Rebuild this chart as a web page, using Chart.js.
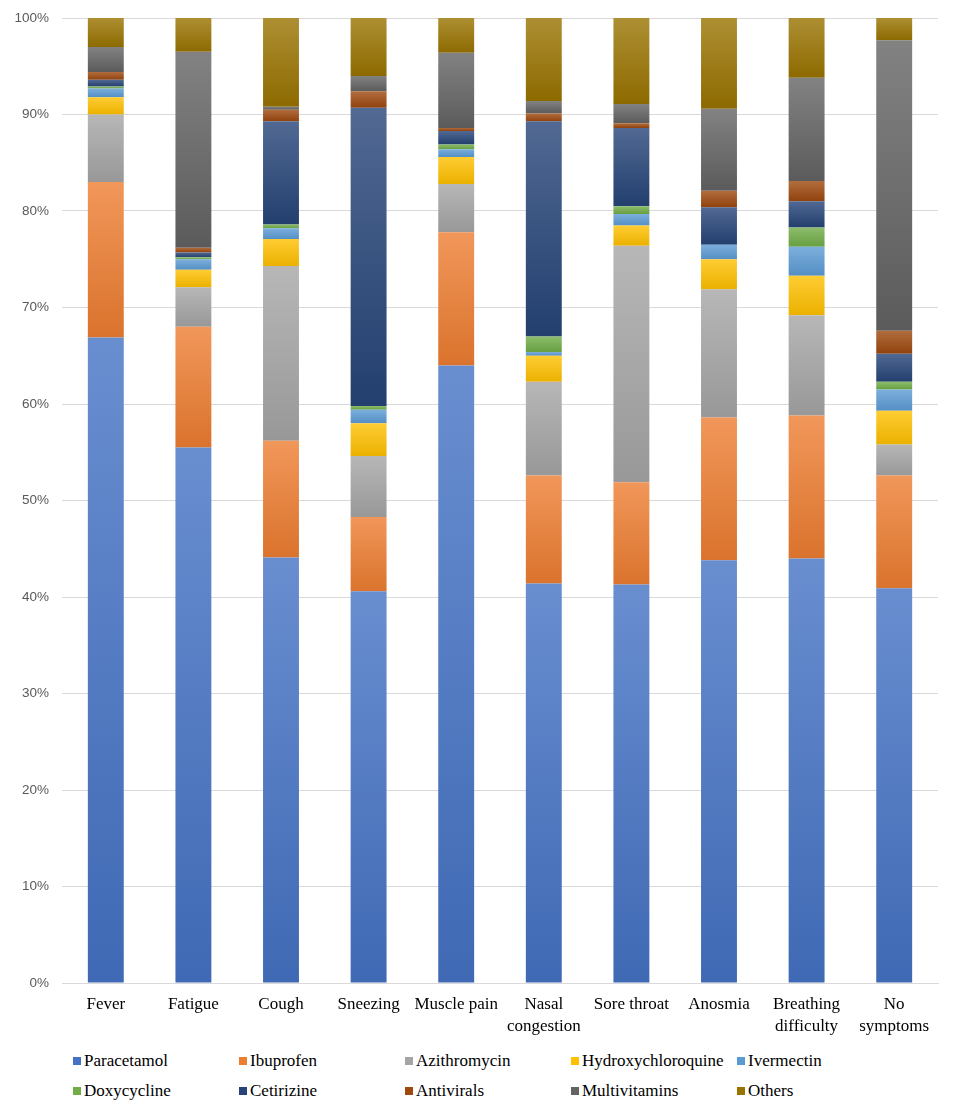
<!DOCTYPE html>
<html lang="en">
<head>
    <meta charset="UTF-8">
    <title>Medication use by symptom</title>
    <script src="https://cdn.jsdelivr.net/npm/chart.js"></script>
    <style>
        body { margin: 0; background: #fff; }
        #wrap { position: relative; width: 957px; height: 1109px; }
        #chart { display: block; }
        #legend {
            position: absolute; left: 73px; top: 1050px;
            display: grid; grid-template-columns: repeat(5, 166px);
            row-gap: 8px;
            font-family: "Liberation Serif", "Times New Roman", serif;
            font-size: 17px; color: #000;
        }
        #legend div { display: flex; align-items: center; height: 22px; white-space: nowrap; }
        #legend span.box { width: 8px; height: 8px; margin-right: 3px; flex: none; }
    </style>
</head>
<body>
<div id="wrap">
    <canvas id="chart" width="957" height="1041"></canvas>
    <div id="legend"></div>
</div>

<script>
// categories (x axis)
const symptoms = ['Fever', 'Fatigue', 'Cough', 'Sneezing', 'Muscle pain',
    ['Nasal', 'congestion'], 'Sore throat', 'Anosmia', ['Breathing', 'difficulty'], ['No', 'symptoms']];

// share of each medication per symptom, %
const paracetamol        = [66.9, 55.5, 44.1, 40.6, 64.0, 41.4, 41.3, 43.8, 44.0, 40.9];
const ibuprofen          = [16.1, 12.5, 12.1,  7.7, 13.8, 11.2, 10.6, 14.8, 14.8, 11.7];
const azithromycin       = [ 7.0,  4.1, 18.1,  6.3,  5.0,  9.7, 24.5, 13.3, 10.4,  3.2];
const hydroxychloroquine = [ 1.8,  1.8,  2.8,  3.4,  2.8,  2.7,  2.1,  3.1,  4.1,  3.5];
const ivermectin         = [ 0.9,  1.1,  1.1,  1.4,  0.8,  0.4,  1.2,  1.5,  3.0,  2.2];
const doxycycline        = [ 0.2,  0.2,  0.4,  0.4,  0.5,  1.6,  0.8,  0.0,  2.0,  0.8];
const cetirizine         = [ 0.7,  0.5, 10.7, 30.9,  1.4, 22.3,  8.1,  3.9,  2.7,  2.9];
const antivirals         = [ 0.8,  0.5,  1.2,  1.7,  0.3,  0.8,  0.5,  1.7,  2.1,  2.4];
const multivitamins      = [ 2.6, 20.3,  0.3,  1.6,  7.8,  1.3,  2.0,  8.5, 10.7, 30.1];
const others             = [ 3.0,  3.5,  9.2,  6.0,  3.6,  8.6,  8.9,  9.4,  6.2,  2.3];

const yTicks = [0, 10, 20, 30, 40, 50, 60, 70, 80, 90, 100];

const series = [
    { label: 'Paracetamol',        data: paracetamol,        color: '#4472C4' },
    { label: 'Ibuprofen',          data: ibuprofen,          color: '#ED7D31' },
    { label: 'Azithromycin',       data: azithromycin,       color: '#A5A5A5' },
    { label: 'Hydroxychloroquine', data: hydroxychloroquine, color: '#FFC000' },
    { label: 'Ivermectin',         data: ivermectin,         color: '#5B9BD5' },
    { label: 'Doxycycline',        data: doxycycline,        color: '#70AD47' },
    { label: 'Cetirizine',         data: cetirizine,         color: '#264478' },
    { label: 'Antivirals',         data: antivirals,         color: '#9E480E' },
    { label: 'Multivitamins',      data: multivitamins,      color: '#636363' },
    { label: 'Others',             data: others,             color: '#997300' }
];

function mix(hex, target, t) {
    const n = parseInt(hex.slice(1), 16);
    const r = (n >> 16) & 255, g = (n >> 8) & 255, b = n & 255;
    const f = c => Math.round(c + (target - c) * t);
    return 'rgb(' + f(r) + ',' + f(g) + ',' + f(b) + ')';
}

// excel-like gradient: lighter at the top of each segment, deeper at the bottom
function segmentFill(ctx) {
    const s = series[ctx.datasetIndex];
    const chart = ctx.chart;
    const y = chart.scales && chart.scales.y;
    if (ctx.type !== 'data' || !y) return s.color;
    let below = 0;
    for (let d = 0; d < ctx.datasetIndex; d++) below += series[d].data[ctx.dataIndex];
    const top = y.getPixelForValue(below + s.data[ctx.dataIndex]);
    const bottom = y.getPixelForValue(below);
    if (!isFinite(top) || !isFinite(bottom) || bottom - top < 1) return s.color;
    const g = chart.ctx.createLinearGradient(0, top, 0, bottom);
    g.addColorStop(0, mix(s.color, 255, 0.2));
    g.addColorStop(1, mix(s.color, 0, 0.08));
    return g;
}

const chart = new Chart(document.getElementById('chart').getContext('2d'), {
    type: 'bar',
    data: {
        labels: symptoms,
        datasets: series.map(s => ({
            label: s.label,
            data: s.data,
            backgroundColor: segmentFill,
            borderWidth: 0,
            barPercentage: 0.41,
            categoryPercentage: 1
        }))
    },
    options: {
        responsive: false,
        animation: false,
        layout: { padding: { left: 0, right: 19, top: 18, bottom: 0 } },
        plugins: { legend: { display: false }, tooltip: { enabled: false } },
        scales: {
            x: {
                stacked: true,
                grid: { display: false, drawTicks: false },
                border: { display: true, color: '#d9d9d9' },
                ticks: {
                    color: '#000',
                    font: { family: '"Liberation Serif", "Times New Roman", serif', size: 17, lineHeight: 1.3 },
                    padding: 10, maxRotation: 0, autoSkip: false
                },
                afterFit: s => { s.height = 58; }
            },
            y: {
                stacked: true,
                min: 0, max: 100,
                afterBuildTicks: s => { s.ticks = yTicks.map(v => ({ value: v })); },
                grid: { color: '#d9d9d9', drawTicks: false },
                border: { display: false },
                ticks: {
                    color: '#595959',
                    font: { family: '"Liberation Sans", Arial, sans-serif', size: 13.5 },
                    padding: 13,
                    callback: v => v + '%'
                },
                afterFit: s => { s.width = 62; s.paddingTop = 0; s.paddingBottom = 0; }
            }
        }
    }
});

// legend in 5 equal columns like the original
const legend = document.getElementById('legend');
chart.data.datasets.forEach((ds, i) => {
    const item = document.createElement('div');
    const box = document.createElement('span');
    box.className = 'box';
    box.style.background = series[i].color;
    item.appendChild(box);
    item.appendChild(document.createTextNode(ds.label));
    legend.appendChild(item);
});
</script>
</body>
</html>
